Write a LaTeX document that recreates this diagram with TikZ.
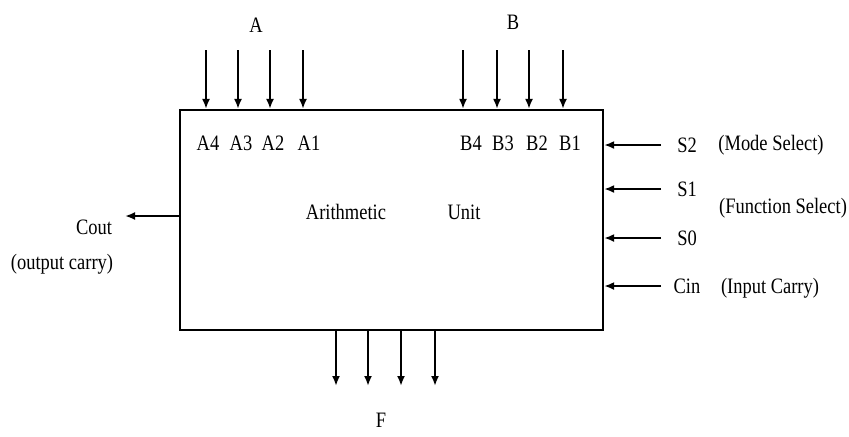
\documentclass[tikz,border=0pt]{standalone}
\usepackage{fontspec}
\setmainfont[FakeStretch=0.84]{Liberation Serif}
\usetikzlibrary{arrows.meta}
\begin{document}
\begin{tikzpicture}[x=0.5pt,y=-0.5pt,>={Latex[length=5pt,width=4pt]},line width=1.1pt,font=\fontsize{11}{13}\selectfont]
            \useasboundingbox (0,0) rectangle (849,436);
            \node[draw,minimum width=211.5pt,minimum height=110pt,inner sep=0pt] (alu) at (391.5,220) {};
            \node (arith) at (346,212) {Arithmetic};
            \node (unit) at (464,212) {Unit};
            % inputs A and B
            \node (la) at (256,25) {A};
            \node (lb) at (513,22) {B};
            \foreach \x/\lx/\n in {206/208/4,238/241/3,270/273/2,303/309/1} {
                \coordinate (a\n) at (\x,50);
                \draw[->] (a\n) -- (a\n |- alu.north);
                \node (ta\n) at (\lx,143) {A\n};
            }
            \foreach \x/\lx/\n in {463/471/4,497/503/3,529/537/2,563/570/1} {
                \coordinate (b\n) at (\x,50);
                \draw[->] (b\n) -- (b\n |- alu.north);
                \node (tb\n) at (\lx,143) {B\n};
            }
            % select lines and carry in
            \foreach \y/\n/\t in {145/s2/S2,189/s1/S1,238/s0/S0,286/cin/Cin} {
                \node (\n) at (687,\y) {\t};
                \coordinate (e\n) at (661,\y);
                \draw[->] (e\n) -- (e\n -| alu.east);
            }
            \node (mode) at (771,145) {(Mode Select)};
            \node (func) at (783,208) {(Function Select)};
            \node (incarry) at (770,288) {(Input Carry)};
            % carry out
            \node (cout) at (94,227) {Cout};
            \node (ocarry) at (62,264) {(output carry)};
            \coordinate (co) at (125,216);
            \draw[->] (co -| alu.west) -- (co);
            % outputs F
            \foreach \x/\n in {336/4,368/3,401/2,435/1} {
                \coordinate (f\n) at (\x,386);
                \draw[->] (f\n |- alu.south) -- (f\n);
            }
            \node (lf) at (381,420) {F};
        \end{tikzpicture}
\end{document}
